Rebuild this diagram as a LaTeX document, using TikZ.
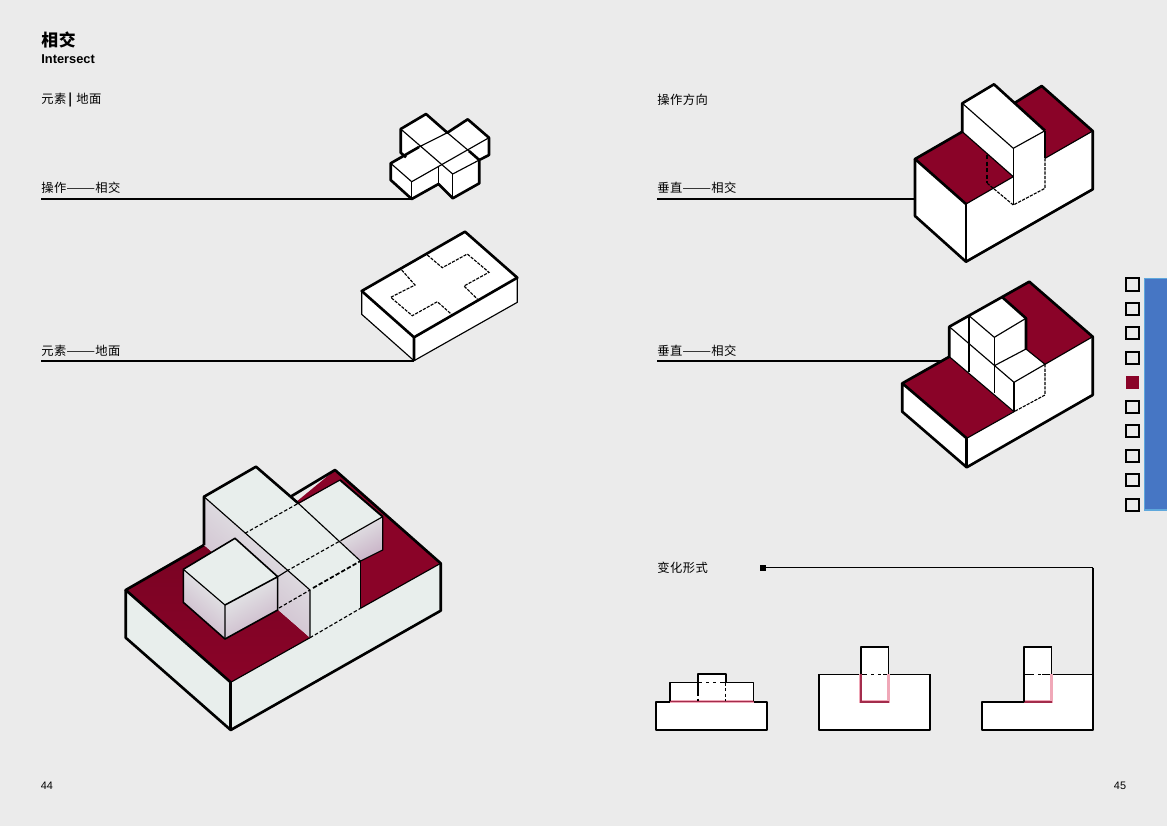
\documentclass[tikz,border=0pt]{standalone}
\usepackage{graphicx}
\usepackage{fontspec}
\setmainfont{Liberation Sans}
\newfontfamily\cjk[LetterSpace=4]{Noto Sans CJK SC}
\newcommand{\longrule}{\scalebox{1.4}[1]{——}}
\definecolor{paper}{HTML}{EBEBEB}
\definecolor{wine}{HTML}{8A0328}
\definecolor{sidebar}{HTML}{4676C4}
\definecolor{sidebaredge}{HTML}{5FA8DC}
\definecolor{glow}{HTML}{F0A8B8}
\definecolor{pale}{HTML}{E8EEEC}
\definecolor{mauve}{HTML}{C9B3C7}
\tikzset{
  heavy/.style={line width=1.5pt,line join=round},
  fine/.style={line width=0.65pt,line join=round},
  hidden/.style={line width=0.65pt,dash pattern=on 2pt off 1.2pt},
  trace/.style={line width=0.65pt,dash pattern=on 1.8pt off 0.7pt},
  hiddenheavy/.style={line width=1pt,dash pattern=on 2.5pt off 1.2pt},
  whitedash/.style={line width=0.7pt,white,dash pattern=on 2pt off 2pt},
  tag/.style={anchor=west,inner sep=0pt,font=\cjk\fontsize{7}{8}\selectfont},
  pagenum/.style={inner sep=0pt,font=\fontsize{6.2}{8}\selectfont},
  tickbox/.style={draw,line width=1.1pt,minimum size=7pt,inner sep=0pt,fill=paper},
  pinkline/.style={line width=1.8pt,glow},
  redline/.style={line width=0.8pt,wine!75!glow},
  leftface/.style={top color=pale,bottom color=mauve,shading angle=-41},
  rightface/.style={top color=pale,bottom color=mauve,shading angle=30}
}
\begin{document}
\begin{tikzpicture}[x=0.02cm,y=-0.02cm]
      \useasboundingbox (0,0) rectangle (1167,826);
      \fill[paper] (0,0) rectangle (1167,826);
      \fill[sidebar] (1144.5,278.5) rectangle (1167,510);
      \draw[sidebaredge,line width=0.6pt] (1167,278.5)--(1144.5,278.5)--(1144.5,510)--(1167,510);

      \node at(41,40) [anchor=west,inner sep=0pt,font=\cjk\bfseries\fontsize{9.6}{11}\selectfont] (title) {相交};
      \node at(41,59.5) [anchor=west,inner sep=0pt,font=\bfseries\fontsize{7.3}{9}\selectfont] (subtitle) {Intersect};
      \node at(41,100) [tag] (element) {元素\,{\bfseries|}\,\,地面};
      \node at(41,188) [tag] (opleft) {操作\longrule{}相交};
      \node at(41,351) [tag] (groundleft) {元素\longrule{}地面};
      \node at(657,100) [tag] (direction) {操作方向};
      \node at(657,188) [tag] (vertone) {垂直\longrule{}相交};
      \node at(657,351) [tag] (verttwo) {垂直\longrule{}相交};
      \node at(657,567.5) [tag] (variants) {变化形式};
      \node at(47,785.5) [pagenum] (pageleft) {44};
      \node at(1120,785.5) [pagenum] (pageright) {45};

      \foreach \n/\y in {a/284.4,b/308.8,c/333.3,d/357.7,f/406.8,g/431.3,h/455.7,i/480,j/504.8}
        \node at(1132.5,\y) [tickbox] (tick-\n) {};
      \node at(1132.5,382.4) [tickbox,draw=wine,fill=wine,line width=0.6pt] (tick-e) {};

      % leaders
      \coordinate (leadone) at (41,199);
      \coordinate (leadtwo) at (41,361);
      \coordinate (leadthree) at (657,199);
      \coordinate (leadfour) at (657,361);
      \coordinate (footone) at (411.7,199);
      \coordinate (foottwo) at (414,361);
      \coordinate (footthree) at (915,199);
      \coordinate (footfour) at (945,361);
      \draw[heavy,line width=1.2pt] (leadone)--(footone);
      \draw[heavy,line width=1.2pt] (leadtwo)--(foottwo);
      \draw[heavy,line width=1.2pt] (leadthree)--(footthree);
      \draw[heavy,line width=1.2pt] (leadfour)--(footfour);

      % cross
      \fill[white] (400.7,129)--(426,114)--(447.3,132.7)--(467.7,119.3)--(489,137.7)--(489,155)--(479.3,160)--(479.3,183.3)--(452.7,198.3)--(438.5,184)--(411.7,199)--(390.7,180)--(390.7,163.3)--(406,157.3)--(400.7,152.7)--cycle;
      \draw[heavy] (406,157.3)--(400.7,152.7)--(400.7,129)--(426,114)--(447.3,132.7)--(467.7,119.3)--(489,137.7)--(489,155)--(479.3,160)--(479.3,183.3)--(452.7,198.3)--(438.5,184)--(411.7,199)--(390.7,180)--(390.7,163.3)--(419,147);
      \draw[heavy] (469,151)--(479.3,160);
      \draw[fine] (400.7,129)--(452.7,174)--(479.3,160);
      \draw[fine] (419,147)--(447.3,132.7)--(469,151);
      \draw[fine] (390.7,163.3)--(411.7,181.7)--(489,137.7);
      \draw[fine,line width=0.9pt] (411.7,181.7)--(411.7,199);
      \draw[fine,line width=0.9pt] (452.7,174)--(452.7,198.3);
      \draw[fine] (438.5,166)--(438.5,184);

      % slab with footprint
      \fill[white] (361.7,291)--(465,231.7)--(517.3,277.7)--(517.3,302.3)--(414,360.7)--(361.7,314.3)--cycle;
      \draw[fine] (361.7,291)--(361.7,314.3)--(414,360.7)--(517.3,302.3)--(517.3,277.7);
      \draw[heavy] (414,337.3)--(361.7,291)--(465,231.7)--(517.3,277.7)--(414,337.3)--(414,360.7);
      \draw[trace] (427.3,255)--(442.3,267.7)--(467.3,254)--(489,272.3)--(464,286)--(477.3,299);
      \draw[trace] (401.7,270)--(415,285)--(390.7,297.3)--(412.3,315.7)--(437.3,301.7)--(452.3,315);

      % vertical one
      \fill[white] (915,159)--(962.3,131.7)--(962.3,103.3)--(994,84.3)--(1015,102.7)--(1041.7,86)--(1092.7,131)--(1092.7,189.3)--(966,261.7)--(915,216)--cycle;
      \fill[wine] (915,159)--(962.3,131.7)--(1013.3,176.7)--(966,204)--cycle;
      \fill[wine] (1015,102.7)--(1041.7,86)--(1092.7,131)--(1045,158.3)--(1045,130.7)--cycle;
      \draw[heavy] (966,204)--(915,159)--(962.3,131.7)--(962.3,103.3)--(994,84.3)--(1045,130.7);
      \draw[heavy] (1015,102.7)--(1041.7,86)--(1092.7,131)--(1092.7,189.3)--(966,261.7)--(915,216)--(915,159);
      \draw[heavy] (966,204)--(966,261.7);
      \draw[fine] (962.3,103.3)--(1013.3,148.3)--(1045,130.7);
      \draw[fine] (962.3,131.7)--(1013.3,176.7)--(966,204);
      \draw[fine] (1045,158.3)--(1092.7,131);
      \draw[fine,line width=0.9pt] (1013.3,148.3)--(1013.3,205);
      \draw[fine] (1045,130.7)--(1045,158.3);
      \draw[trace] (1045,158.3)--(1045,188.3)--(1013.3,205)--(987.3,183.3);
      \draw[hiddenheavy] (987.3,155)--(987.3,183.3);

      % vertical two
      \fill[white] (902.3,383.3)--(949.3,356.7)--(949.3,326.7)--(1003.3,296.7)--(1029.3,281.7)--(1092.7,336.7)--(1092.7,395)--(966.7,467.3)--(902.3,411.7)--cycle;
      \fill[wine] (902.3,383.3)--(949.3,356.7)--(1013.3,411.7)--(966.7,438.3)--cycle;
      \fill[wine] (1003.3,296.7)--(1029.3,281.7)--(1092.7,336.7)--(1045,364.3)--(1026,349)--(1026,318.3)--cycle;
      \draw[heavy] (966.7,438.3)--(902.3,383.3)--(949.3,356.7)--(949.3,326.7)--(1029.3,281.7)--(1092.7,336.7)--(1092.7,395)--(966.7,467.3)--(902.3,411.7)--(902.3,383.3);
      \draw[heavy] (966.7,438.3)--(966.7,467.3);
      \draw[heavy] (1001.7,296.7)--(1026,318.3)--(1026,349);
      \draw[fine] (966.7,438.3)--(1014,411.7);
      \draw[fine] (1045,364.3)--(1092.7,336.7);
      \draw[fine] (969,315.7)--(994.3,337.3)--(1026,318.3);
      \draw[fine] (949.3,326.7)--(1014,382.3)--(1045,364.3)--(1026,349)--(994.3,365.7);
      \draw[fine] (994.3,337.3)--(994.3,393.3);
      \draw[fine] (1014,382.3)--(1014,411.7);
      \draw[fine,line width=0.9pt] (969,315.7)--(969,371.7);
      \draw[fine] (949.3,356.7)--(1014,411.7);
      \draw[trace] (1045,364.3)--(1045,395)--(1014,411.7);

      % big slab
      \fill[pale] (125.7,590)--(230.7,682.3)--(230.7,730)--(125.7,637.7)--cycle;
      \fill[pale] (230.7,682.3)--(440.7,563.3)--(440.7,610.7)--(230.7,730)--cycle;
      \shade[top color=wine!88!black,bottom color=wine] (125.7,590)--(204,545)--(310,637.7)--(230.7,682.3)--cycle;
      \fill[wine] (290,507)--(335,470)--(440.7,563.3)--(360.5,608.3)--(360.5,561)--cycle;
      \draw[heavy] (230.7,682.3)--(125.7,590)--(204,545);
      \draw[heavy] (290,497)--(335,470)--(440.7,563.3)--(440.7,610.7)--(230.7,730)--(125.7,637.7)--(125.7,590);
      \draw[heavy] (230.7,682.3)--(230.7,730);
      \draw[fine] (230.7,682.3)--(310,637.7);
      \draw[fine] (360.5,608.3)--(440.7,563.3);

      % back arm
      \fill[pale] (292,508)--(340,480)--(382.7,516.7)--(335,545)--cycle;
      \shade[rightface] (335,545)--(382.7,516.7)--(382.7,550)--(360.5,561)--cycle;
      \draw[heavy,line width=1.1pt] (340,480)--(382.7,516.7);
      \draw[fine] (298.3,503.3)--(340,480);
      \draw[fine] (341.7,540)--(382.7,516.7)--(382.7,550)--(360.5,561);

      % long bar
      \fill[pale] (204,496.7)--(256,466.7)--(360.5,561)--(310,590)--cycle;
      \shade[leftface] (204,496.7)--(310,590)--(310,637.7)--(204,545)--cycle;
      \fill[pale] (310,590)--(360.5,561)--(360.5,608.3)--(310,637.7)--cycle;
      \draw[heavy] (204,545)--(204,496.7)--(256,466.7)--(298.3,503.3);
      \draw[fine] (298.3,503.3)--(360.5,561);
      \draw[fine] (204,496.7)--(310,590)--(310,637.7);
      \draw[fine,line width=0.9pt] (360.5,561)--(360.5,608.3);

      % front cube
      \fill[pale] (183.3,569.3)--(235,538.3)--(277.7,576.7)--(225,605)--cycle;
      \shade[leftface] (183.3,569.3)--(225,605)--(225,639)--(183.3,602.3)--cycle;
      \shade[rightface] (225,605)--(277.7,576.7)--(277.7,610)--(225,639)--cycle;
      \draw[fine,line width=0.9pt] (225,605)--(277.7,576.7)--(277.7,610)--(225,639)--(183.3,602.3)--(183.3,569.3)--(235,538.3)--(277.7,576.7);
      \draw[fine] (183.3,569.3)--(225,605)--(225,639);
      \draw[fine] (277.7,576.7)--(286.7,571);

      \draw[hidden] (245,533.3)--(298.3,503.3);
      \draw[hidden] (286.7,571)--(341.7,540);
      \draw[hidden] (279,608)--(310,590);
      \draw[hiddenheavy] (313,588)--(360.5,561);
      \draw[hidden] (310,637.7)--(360.5,608.3);

      % sections
      \node at(762.7,567.7) [fill,inner sep=0pt,minimum size=3.3pt] (markbox) {};
      \coordinate (turn) at (1092.7,567.7);
      \coordinate (cornerend) at (1092.7,674.3);
      \draw[fine] (markbox)--(turn);
      \draw[heavy,line width=1.05pt] (turn)--(cornerend);

      \fill[white] (656,701.7) rectangle (767.3,730);
      \fill[white] (670,682.3) rectangle (753.7,701.7);
      \fill[white] (697.7,674.3) rectangle (726,682.3);
      \draw[heavy,line width=1.1pt] (656,701.7) rectangle (767.3,730);
      \draw[pinkline] (670,701.7)--(753.7,701.7);
      \draw[redline] (670,701.7)--(753.7,701.7);
      \draw[fine,line width=0.9pt] (670,701)--(670,682.3)--(753.7,682.3)--(753.7,701);
      \draw[heavy,line width=1.1pt] (697.7,692)--(697.7,674.3)--(726,674.3)--(726,682.3);
      \draw[whitedash] (702,682.3)--(722,682.3);
      \draw[hidden] (725.5,682.3)--(725.5,701);
      \draw[hiddenheavy] (697.7,692)--(697.7,701);

      \fill[white] (819,674.3) rectangle (930,730);
      \fill[white] (860.7,646.7) rectangle (888.7,674.3);
      \draw[heavy,line width=1.1pt] (819,674.3)--(819,730)--(930,730)--(930,674.3);
      \draw[fine] (819,674.3)--(930,674.3);
      \draw[pinkline] (860.7,674.3)--(860.7,701.7)--(888.7,701.7)--(888.7,674.3);
      \draw[redline,line width=1pt] (860.7,674.3)--(860.7,701.7)--(888.7,701.7);
      \draw[heavy,line width=1.1pt] (860.7,674.3)--(860.7,646.7)--(888.7,646.7);
      \draw[fine] (888.7,646.7)--(888.7,674.3);
      \draw[whitedash] (867,674.3)--(883,674.3);

      \fill[white] (982,701.7) rectangle (1092.7,730);
      \fill[white] (1024,674.3) rectangle (1092.7,701.7);
      \fill[white] (1024,646.7) rectangle (1051.7,674.3);
      \draw[heavy,line width=1.1pt] (1024,701.7)--(982,701.7)--(982,730)--(1092.7,730)--(1092.7,674.3);
      \draw[fine] (1024,674.3)--(1092.7,674.3);
      \draw[pinkline] (1024,701.7)--(1051.7,701.7)--(1051.7,674.3);
      \draw[redline,line width=1pt] (1024,701.7)--(1051.7,701.7);
      \draw[heavy,line width=1.1pt] (1024,701.7)--(1024,646.7)--(1051.7,646.7);
      \draw[fine] (1051.7,646.7)--(1051.7,674.3);
      \draw[whitedash] (1034,674.3)--(1042,674.3);
\end{tikzpicture}
\end{document}
